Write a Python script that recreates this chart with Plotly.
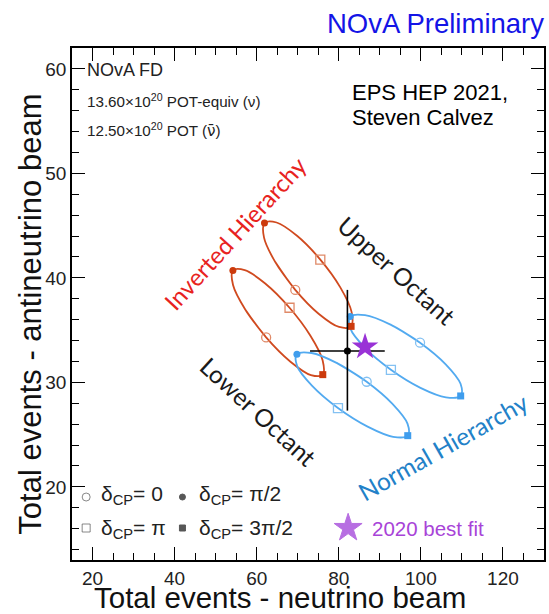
import plotly.graph_objects as go

# ---- data (delta_CP sweep at 30 deg steps, starting at delta_CP = 0) ----
ih_upper_x = [69.40, 64.53, 61.79, 61.90, 64.84, 69.82, 75.50, 80.37, 83.11, 83.00, 80.06, 75.08]
ih_upper_y = [38.85, 41.51, 43.85, 45.24, 45.30, 44.03, 41.75, 39.09, 36.75, 35.36, 35.30, 36.57]
ih_lower_x = [62.30, 57.21, 54.24, 54.20, 57.09, 62.14, 68.00, 73.09, 76.06, 76.10, 73.21, 68.16]
ih_lower_y = [34.30, 36.98, 39.32, 40.70, 40.74, 39.44, 37.14, 34.46, 32.12, 30.74, 30.70, 32.00]
nh_upper_x = [99.80, 92.60, 86.38, 82.80, 82.83, 86.45, 92.70, 99.90, 106.12, 109.70, 109.67, 106.05]
nh_upper_y = [33.80, 35.53, 36.44, 36.30, 35.14, 33.27, 31.20, 29.47, 28.56, 28.70, 29.86, 31.73]
nh_lower_x = [86.80, 79.58, 73.36, 69.80, 69.86, 73.52, 79.80, 87.02, 93.24, 96.80, 96.74, 93.08]
nh_lower_y = [30.06, 31.84, 32.81, 32.70, 31.55, 29.66, 27.54, 25.76, 24.79, 24.90, 26.05, 27.94]

# indices of marked delta_CP values in the sweep arrays
idx_0, idx_pi2, idx_pi, idx_3pi2 = 0, 3, 6, 9

data_x = [82.1]
data_y = [33.0]
data_ex = [9.1]
data_ey_up = [5.85]
data_ey_dn = [5.7]

best_fit_x = [86.4]
best_fit_y = [33.4]

x_ticks = [20, 40, 60, 80, 100, 120]
y_ticks = [20, 30, 40, 50, 60]

IH_LINE = "#d04a1f"
IH_FILL = "#cc3a0c"
IH_OPEN = "#e08a68"
NH_LINE = "#52aaf0"
NH_FILL = "#3f9ded"
NH_OPEN = "#84c1f2"
STAR = "#9932d6"
FONT = "Liberation Sans, Arial, sans-serif"
LFONT = "Lato, Open Sans, sans-serif"

fig = go.Figure()

ellipses = [
    (ih_upper_x, ih_upper_y, IH_LINE, IH_FILL, IH_OPEN),
    (ih_lower_x, ih_lower_y, IH_LINE, IH_FILL, IH_OPEN),
    (nh_upper_x, nh_upper_y, NH_LINE, NH_FILL, NH_OPEN),
    (nh_lower_x, nh_lower_y, NH_LINE, NH_FILL, NH_OPEN),
]

for xs, ys, lc, fc, oc in ellipses:
    fig.add_trace(go.Scatter(
        x=xs + xs[:2], y=ys + ys[:2], mode="lines",
        line=dict(color=lc, width=1.8, shape="spline", smoothing=1.0),
        hoverinfo="skip", showlegend=False))

for xs, ys, lc, fc, oc in ellipses:
    fig.add_trace(go.Scatter(
        x=[xs[idx_0]], y=[ys[idx_0]], mode="markers",
        marker=dict(symbol="circle-open", size=9, color=oc, line=dict(width=1.3, color=oc)),
        showlegend=False))
    fig.add_trace(go.Scatter(
        x=[xs[idx_pi]], y=[ys[idx_pi]], mode="markers",
        marker=dict(symbol="square-open", size=9, color=oc, line=dict(width=1.3, color=oc)),
        showlegend=False))
    fig.add_trace(go.Scatter(
        x=[xs[idx_pi2]], y=[ys[idx_pi2]], mode="markers",
        marker=dict(symbol="circle", size=7, color=fc),
        showlegend=False))
    fig.add_trace(go.Scatter(
        x=[xs[idx_3pi2]], y=[ys[idx_3pi2]], mode="markers",
        marker=dict(symbol="square", size=7, color=fc),
        showlegend=False))

fig.add_trace(go.Scatter(
    x=data_x, y=data_y, mode="markers",
    marker=dict(symbol="circle", size=7, color="black"),
    error_x=dict(type="data", array=data_ex, color="black", thickness=1.6, width=0),
    error_y=dict(type="data", array=data_ey_up, arrayminus=data_ey_dn,
                 color="black", thickness=1.6, width=0),
    showlegend=False))

fig.add_trace(go.Scatter(
    x=best_fit_x, y=best_fit_y, mode="markers",
    marker=dict(symbol="star", size=20, color=STAR, line=dict(width=0)),
    showlegend=False))

# legend key symbols, placed on an overlay axis spanning the plot area (0..1)
r1_mark, r2_mark = 0.123, 0.0625
key_x = [0.030, 0.030, 0.234, 0.234, 0.585]
key_y = [r1_mark, r2_mark, r1_mark, r2_mark, r2_mark]
key_sym = ["circle-open", "square-open", "circle", "square", "star"]
key_size = [8, 8, 6, 6, 21]
key_col = ["#555555", "#555555", "#111111", "#111111", STAR]
fig.add_trace(go.Scatter(
    x=key_x, y=key_y, mode="markers", xaxis="x2", yaxis="y2",
    marker=dict(symbol=key_sym, size=key_size, color=key_col, line=dict(width=1, color=key_col)),
    hoverinfo="skip", showlegend=False))

ann = []
# rotated labels
ann.append(dict(x=54.9, y=44.3, xref="x", yref="y", text="Inverted Hierarchy", showarrow=False,
                xanchor="center", yanchor="middle",
                textangle=-47.6, font=dict(family=LFONT, size=24, color="#e8231e")))
ann.append(dict(x=94.1, y=40.7, xref="x", yref="y", text="Upper Octant", showarrow=False,
                xanchor="center", yanchor="middle",
                textangle=42, font=dict(family=LFONT, size=24.5, color="#1a1a1a")))
ann.append(dict(x=60.4, y=27.2, xref="x", yref="y", text="Lower Octant", showarrow=False,
                xanchor="center", yanchor="middle",
                textangle=42.6, font=dict(family=LFONT, size=24.5, color="#1a1a1a")))
ann.append(dict(x=105.5, y=23.85, xref="x", yref="y", text="Normal Hierarchy", showarrow=False,
                xanchor="center", yanchor="middle",
                textangle=-29.6, font=dict(family=LFONT, size=24.5, color="#2281c8")))

# axis titles
ann.append(dict(x=0.4406, y=-0.0725, xref="paper", yref="paper", xanchor="center", yanchor="middle",
                text="Total events - neutrino beam", showarrow=False,
                font=dict(family=FONT, size=29.5, color="#111")))
ann.append(dict(x=-0.087, y=0.481, xref="paper", yref="paper", xanchor="center", yanchor="middle",
                text="Total events - antineutrino beam", showarrow=False, textangle=-90,
                font=dict(family=FONT, size=31, color="#111")))

# title and info text (paper coords)
ann.append(dict(x=1.004, y=1.048, xref="paper", yref="paper", xanchor="right", yanchor="middle",
                text="NOvA Preliminary", showarrow=False,
                font=dict(family=FONT, size=27.5, color="#1414e6")))
ann.append(dict(x=0.028, y=0.958, xref="paper", yref="paper", xanchor="left", yanchor="middle",
                text="NOvA FD", showarrow=False, font=dict(family=FONT, size=18, color="#222")))
ann.append(dict(x=0.028, y=0.897, xref="paper", yref="paper", xanchor="left", yanchor="middle",
                text="13.60×10<sup>20</sup> POT-equiv (ν)", showarrow=False,
                font=dict(family=FONT, size=15.2, color="#222")))
ann.append(dict(x=0.028, y=0.840, xref="paper", yref="paper", xanchor="left", yanchor="middle",
                text="12.50×10<sup>20</sup> POT (<span style=\"font-family:DejaVu Sans\">ν̄</span>)",
                showarrow=False, font=dict(family=FONT, size=15.2, color="#222")))
ann.append(dict(x=0.590, y=0.914, xref="paper", yref="paper", xanchor="left", yanchor="middle",
                text="EPS HEP 2021,", showarrow=False, font=dict(family=FONT, size=22, color="black")))
ann.append(dict(x=0.590, y=0.865, xref="paper", yref="paper", xanchor="left", yanchor="middle",
                text="Steven Calvez", showarrow=False, font=dict(family=FONT, size=22, color="black")))

# legend texts
r1, r2 = 0.126, 0.0605
for xx, yy, tt in [(0.058, r1, "δ<sub>CP</sub>= 0"), (0.264, r1, "δ<sub>CP</sub>= π/2"),
                   (0.058, r2, "δ<sub>CP</sub>= π"), (0.264, r2, "δ<sub>CP</sub>= 3π/2")]:
    ann.append(dict(x=xx, y=yy, xref="paper", yref="paper", xanchor="left", yanchor="middle",
                    showarrow=False, text=tt, font=dict(family=FONT, size=21, color="#222")))
ann.append(dict(x=0.632, y=r2_mark, xref="paper", yref="paper", xanchor="left", yanchor="middle",
                showarrow=False, text="2020 best fit",
                font=dict(family=FONT, size=20.5, color="#a844d8")))

axis_common = dict(
    ticks="inside", ticklen=13, tickwidth=1.2, tickcolor="black",
    showline=True, linecolor="black", linewidth=1.6, mirror="ticks",
    showgrid=False, zeroline=False,
    tickfont=dict(family=FONT, size=19, color="#222"),
)

fig.update_layout(
    width=549, height=614,
    margin=dict(l=72, r=3, t=48, b=54),
    plot_bgcolor="white", paper_bgcolor="white",
    showlegend=False,
    annotations=ann,
    xaxis=dict(range=[15, 130], tickvals=x_ticks,
               minor=dict(dtick=5, tick0=0, ticks="inside", ticklen=7, tickcolor="black", tickwidth=1),
               **axis_common),
    yaxis=dict(range=[13, 62], tickvals=y_ticks,
               minor=dict(dtick=2, tick0=0, ticks="inside", ticklen=7, tickcolor="black", tickwidth=1),
               **axis_common),
    xaxis2=dict(overlaying="x", range=[0, 1], visible=False, fixedrange=True),
    yaxis2=dict(overlaying="y", range=[0, 1], visible=False, fixedrange=True),
)

fig.write_html("out.html")
